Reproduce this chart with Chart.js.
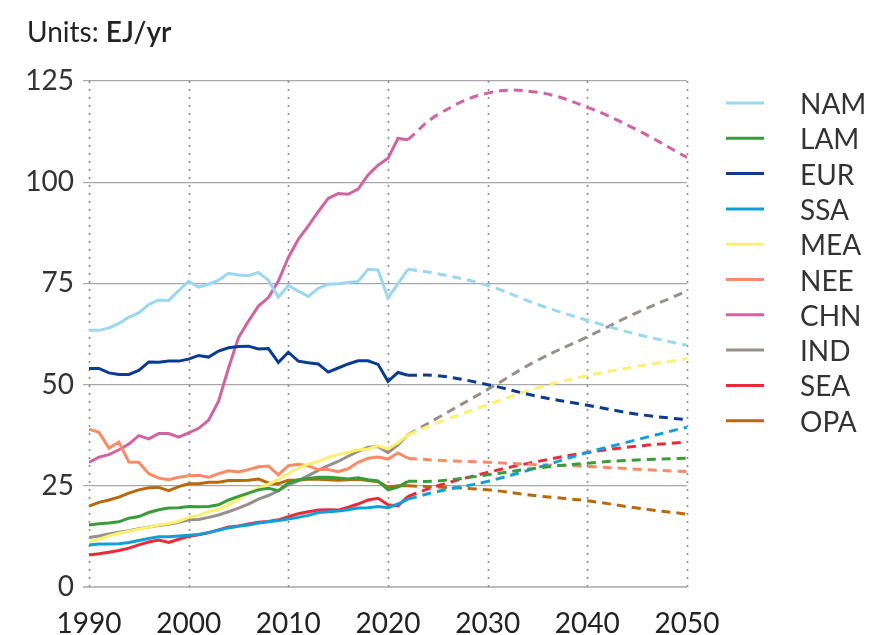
<!DOCTYPE html>
<html>
<head>
<meta charset="utf-8">
<script src="https://cdn.jsdelivr.net/npm/chart.js@4.4.1/dist/chart.umd.min.js"></script>
<style>
  html, body { margin: 0; padding: 0; background: #fff; }
  #wrap { width: 871px; height: 635px; }
</style>
</head>
<body>
<div id="wrap"><canvas id="chart" width="871" height="635"></canvas></div>
<script>
// Energy demand by region, EJ/yr. History 1990-2022, outlook 2022-2050
const regions = ["NAM", "LAM", "EUR", "SSA", "MEA", "NEE", "CHN", "IND", "SEA", "OPA"];
const colors = ["#9ad7f0", "#3b9b3a", "#0b3b91", "#109fd9", "#fdf06f", "#fa8b66", "#d263a1", "#978f8a", "#ea2a39", "#b8690b"];

const histYears = [];
for (let y = 1990; y <= 2022; y++) histYears.push(y);
const projYears = [2022, 2025, 2030, 2035, 2040, 2045, 2050];

const namHist = [63.4, 63.4, 64.0, 65.1, 66.7, 67.7, 69.8, 70.9, 70.8, 73.2, 75.5, 74.1, 74.8, 75.8, 77.5, 77.1, 76.9, 77.7, 75.8, 71.6, 74.5, 73.1, 71.8, 73.8, 74.8, 74.9, 75.2, 75.5, 78.5, 78.3, 71.4, 74.9, 78.5];
const lamHist = [15.3, 15.6, 15.8, 16.1, 17.0, 17.4, 18.4, 19.1, 19.5, 19.6, 19.9, 19.8, 19.9, 20.3, 21.5, 22.4, 23.2, 24.0, 24.4, 23.8, 25.7, 26.5, 26.8, 27.1, 27.1, 26.9, 26.7, 27.0, 26.5, 26.2, 24.0, 24.7, 26.1];
const eurHist = [54.0, 54.0, 52.9, 52.5, 52.5, 53.5, 55.6, 55.5, 55.8, 55.8, 56.3, 57.2, 56.8, 58.3, 59.1, 59.4, 59.5, 58.8, 58.9, 55.5, 58.0, 55.8, 55.4, 55.1, 53.1, 54.1, 55.1, 55.9, 55.9, 55.0, 50.8, 53.0, 52.3];
const ssaHist = [10.4, 10.6, 10.6, 10.7, 11.0, 11.5, 12.0, 12.4, 12.4, 12.6, 12.8, 13.0, 13.5, 14.0, 14.6, 15.0, 15.3, 15.8, 16.1, 16.4, 16.8, 17.2, 17.7, 18.4, 18.6, 18.8, 19.1, 19.5, 19.6, 19.9, 19.6, 20.5, 21.7];
const meaHist = [11.2, 11.8, 12.6, 13.3, 13.8, 14.3, 14.8, 15.3, 15.7, 16.2, 17.2, 17.7, 18.6, 19.2, 20.3, 21.7, 23.2, 24.4, 25.4, 26.5, 28.1, 29.4, 30.4, 31.0, 32.0, 32.7, 33.3, 33.9, 34.1, 34.9, 34.1, 35.6, 37.6];
const neeHist = [39.0, 38.2, 34.3, 35.8, 30.9, 30.8, 28.0, 26.9, 26.5, 27.1, 27.5, 27.6, 27.1, 28.0, 28.7, 28.4, 29.0, 29.7, 29.9, 27.7, 30.0, 30.3, 29.9, 29.0, 29.0, 28.5, 29.2, 30.8, 31.8, 32.1, 31.6, 33.1, 31.8];
const chnHist = [30.8, 32.1, 32.7, 33.9, 35.3, 37.4, 36.6, 37.9, 37.9, 37.0, 38.1, 39.2, 41.2, 45.9, 54.1, 61.6, 65.7, 69.4, 71.5, 75.6, 81.4, 85.9, 89.2, 92.7, 96.0, 97.2, 97.0, 98.3, 101.8, 104.2, 105.9, 110.8, 110.5];
const indHist = [12.2, 12.6, 13.1, 13.5, 13.9, 14.4, 14.8, 15.2, 15.5, 16.0, 16.6, 16.7, 17.2, 17.8, 18.6, 19.5, 20.5, 21.7, 22.6, 23.8, 25.2, 26.2, 27.5, 28.8, 30.0, 31.0, 32.3, 33.5, 34.5, 34.7, 33.2, 35.1, 37.6];
const seaHist = [7.9, 8.2, 8.6, 9.0, 9.6, 10.4, 11.1, 11.6, 11.0, 11.8, 12.5, 12.9, 13.4, 14.1, 14.8, 15.1, 15.6, 16.0, 16.2, 16.6, 17.4, 18.1, 18.6, 19.0, 19.1, 19.0, 19.7, 20.5, 21.5, 21.9, 20.3, 20.0, 22.4];
const opaHist = [20.0, 20.9, 21.5, 22.2, 23.2, 24.0, 24.5, 24.6, 23.8, 24.8, 25.5, 25.5, 25.9, 25.9, 26.3, 26.3, 26.4, 26.7, 25.7, 25.5, 26.4, 26.4, 26.6, 26.6, 26.5, 26.4, 26.5, 26.6, 26.3, 26.0, 24.7, 25.0, 25.0];

const namProj = [78.5, 77.4, 74.5, 69.8, 65.9, 62.4, 59.7];
const lamProj = [26.1, 26.2, 27.7, 29.4, 30.6, 31.4, 31.8];
const eurProj = [52.3, 52.2, 50.0, 47.1, 44.9, 42.7, 41.3];
const ssaProj = [21.7, 23.6, 26.1, 29.5, 33.2, 36.4, 39.5];
const meaProj = [37.6, 40.6, 45.0, 49.2, 52.2, 54.5, 56.4];
const neeProj = [31.8, 31.3, 30.8, 30.2, 29.8, 29.1, 28.5];
const chnProj = [110.5, 116.7, 122.0, 122.2, 118.5, 112.9, 106.1];
const indProj = [37.6, 41.8, 48.8, 56.0, 61.8, 67.8, 73.1];
const seaProj = [22.4, 25.0, 28.3, 31.0, 33.2, 34.8, 35.8];
const opaProj = [25.0, 24.7, 24.0, 22.5, 21.3, 19.5, 18.0];

const yTicks = [0, 25, 50, 75, 100, 125];
const xTicks = [1990, 2000, 2010, 2020, 2030, 2040, 2050];

const hist = [namHist, lamHist, eurHist, ssaHist, meaHist, neeHist, chnHist, indHist, seaHist, opaHist];
const proj = [namProj, lamProj, eurProj, ssaProj, meaProj, neeProj, chnProj, indProj, seaProj, opaProj];

const FONT = "Lato, 'Open Sans', sans-serif";

const datasets = [];
regions.forEach((name, i) => {
  datasets.push({
    label: name,
    data: histYears.map((x, k) => ({ x: x, y: hist[i][k] })),
    borderColor: colors[i],
    backgroundColor: colors[i],
    borderWidth: 3,
    pointRadius: 0,
    tension: 0,
  });
  datasets.push({
    label: name + " outlook",
    data: projYears.map((x, k) => ({ x: x, y: proj[i][k] })),
    borderColor: colors[i],
    backgroundColor: colors[i],
    borderWidth: 3,
    borderDash: [9, 6],
    pointRadius: 0,
    tension: 0.4,
  });
});

// dotted vertical grid, drawn before the lines
const dottedGrid = {
  id: "dottedGrid",
  beforeDatasetsDraw(chart) {
    const { ctx, chartArea, scales } = chart;
    ctx.save();
    ctx.strokeStyle = "#8f8f8f";
    ctx.lineWidth = 1.6;
    ctx.setLineDash([2, 6]);
    xTicks.forEach((v) => {
      const x = Math.round(scales.x.getPixelForValue(v)) + 0.5;
      ctx.beginPath();
      ctx.moveTo(x, chartArea.top);
      ctx.lineTo(x, chartArea.bottom);
      ctx.stroke();
    });
    ctx.restore();
  },
};

// title + legend drawn by hand, the built in legend can't space it like this
const sideLegend = {
  id: "sideLegend",
  afterDraw(chart) {
    const ctx = chart.ctx;
    ctx.save();
    ctx.fillStyle = "#222";
    ctx.textBaseline = "alphabetic";
    ctx.font = "28px " + FONT;
    ctx.fillText("Units: ", 27, 42);
    const w = ctx.measureText("Units: ").width;
    ctx.font = "600 28px " + FONT;
    ctx.fillText("EJ/yr", 27 + w, 42);

    ctx.font = "28px " + FONT;
    ctx.fillStyle = "#333";
    regions.forEach((name, i) => {
      const y = 103 + i * 35.3;
      ctx.strokeStyle = colors[i];
      ctx.lineWidth = 3;
      ctx.beginPath();
      ctx.moveTo(726, y);
      ctx.lineTo(764, y);
      ctx.stroke();
      ctx.fillText(name, 800, y + 11);
    });
    ctx.restore();
  },
};

new Chart(document.getElementById("chart"), {
  type: "line",
  data: { datasets: datasets },
  options: {
    responsive: false,
    animation: false,
    layout: { padding: { top: 81, right: 184, bottom: 0, left: 0 } },
    plugins: {
      legend: { display: false },
      tooltip: { enabled: false },
    },
    scales: {
      x: {
        type: "linear",
        min: 1990,
        max: 2050,
        afterBuildTicks: (s) => { s.ticks = xTicks.map((v) => ({ value: v })); },
        afterFit: (s) => { s.height = 48; },
        ticks: {
          color: "#222",
          font: { family: FONT, size: 28 },
          padding: 12,
          maxRotation: 0,
          callback: (v) => String(v),
        },
        grid: { display: false },
        border: { display: false },
      },
      y: {
        min: 0,
        max: 125,
        afterBuildTicks: (s) => { s.ticks = yTicks.map((v) => ({ value: v })); },
        afterFit: (s) => { s.width = 89; },
        ticks: {
          color: "#333",
          font: { family: FONT, size: 28 },
          padding: 9,
        },
        grid: {
          color: (c) => (c.tick && c.tick.value === 0 ? "#bdbdbd" : "#a8a8a8"),
          lineWidth: (c) => (c.tick && c.tick.value === 0 ? 2 : 1.2),
          tickLength: 6,
        },
        border: { display: false },
      },
    },
  },
  plugins: [dottedGrid, sideLegend],
});
</script>
</body>
</html>
